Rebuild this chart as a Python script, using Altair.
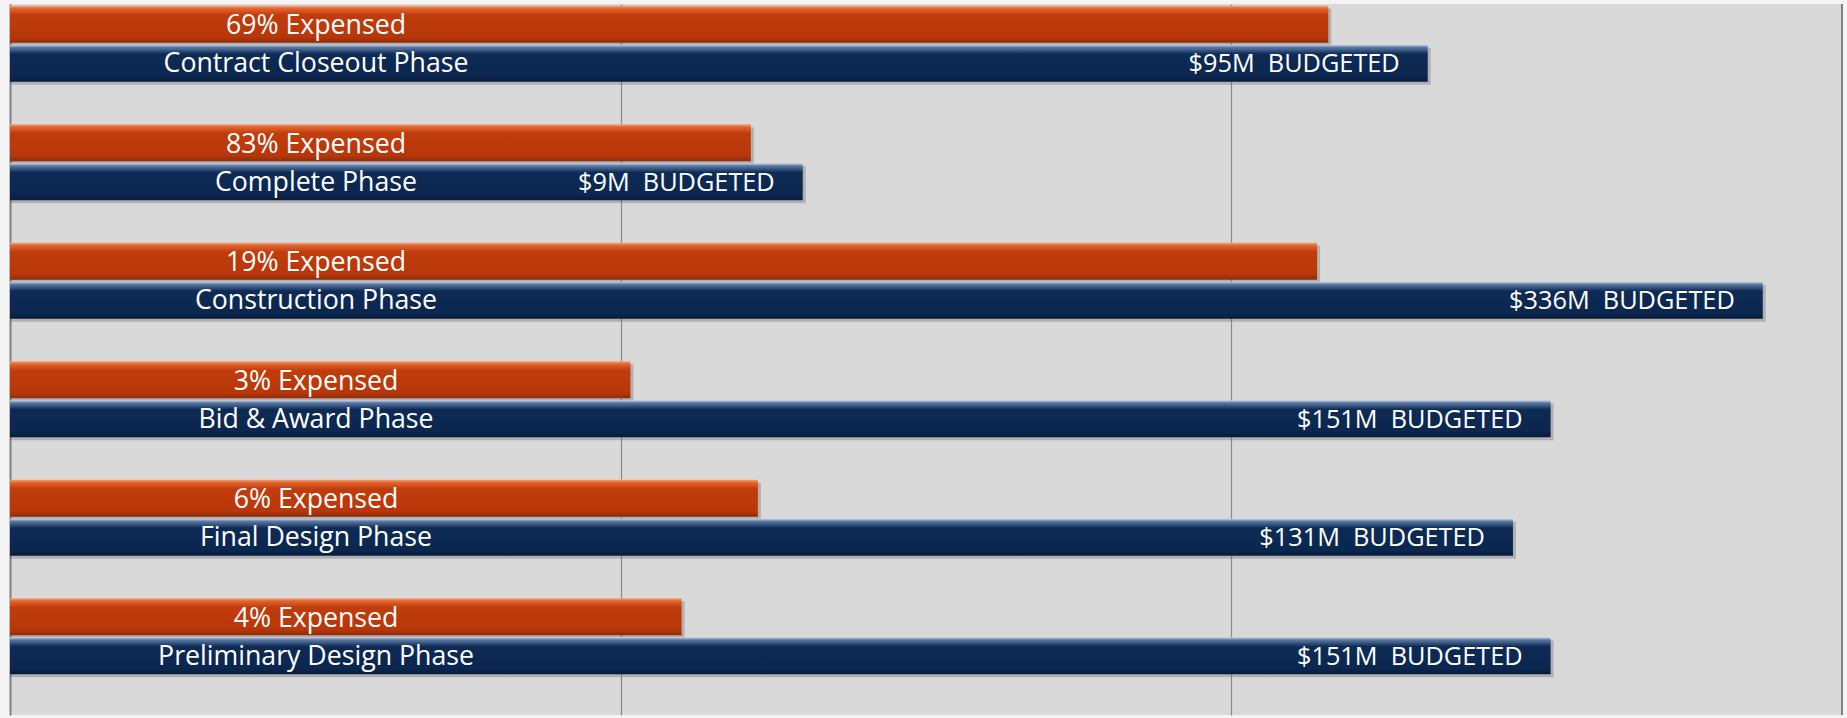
import altair as alt
import pandas as pd

phases = ["Contract Closeout Phase", "Complete Phase", "Construction Phase",
          "Bid & Award Phase", "Final Design Phase", "Preliminary Design Phase"]
budget = [95, 9, 336, 151, 131, 151]            # $M budgeted
pct_expensed = [69, 83, 19, 3, 6, 4]            # % expensed (label)
expensed = [65.3, 7.4, 62.6, 4.7, 7.6, 5.7]     # $M expensed (bar length)
grid_values = [4.53, 45.3]
x_domain = [0.453, 453]

df = pd.DataFrame({
    "phase": phases,
    "budget": budget,
    "expensed": expensed,
    "exp_label": [f"{p}% Expensed" for p in pct_expensed],
    "bud_label": [f"${b}M\u00a0 BUDGETED" for b in budget],
})

W, H = 1832, 711
FONT = "Open Sans"
BAR_H = 37

xscale = alt.Scale(type="log", domain=x_domain, nice=False, zero=False)
yenc = alt.Y("phase:N", sort=None, scale=alt.Scale(paddingInner=0, paddingOuter=0),
             axis=alt.Axis(labels=False, ticks=False, title=None, domain=True,
                           domainColor="#808080", domainWidth=2, grid=False))
xaxis = alt.Axis(values=grid_values, grid=True, gridColor="#8a8a8a", gridWidth=1.2,
                 labels=False, ticks=False, domain=False, title=None)

orange_grad = alt.Gradient(
    gradient="linear", x1=0, x2=0, y1=0, y2=1,
    stops=[alt.GradientStop(offset=0, color="#f4a27a"),
           alt.GradientStop(offset=0.08, color="#e0642c"),
           alt.GradientStop(offset=0.25, color="#c03c0c"),
           alt.GradientStop(offset=0.85, color="#b8370a"),
           alt.GradientStop(offset=1, color="#8e2b08")])
navy_grad = alt.Gradient(
    gradient="linear", x1=0, x2=0, y1=0, y2=1,
    stops=[alt.GradientStop(offset=0, color="#c9d4e4"),
           alt.GradientStop(offset=0.07, color="#5b7aa3"),
           alt.GradientStop(offset=0.25, color="#0e2b55"),
           alt.GradientStop(offset=0.85, color="#0b2750"),
           alt.GradientStop(offset=1, color="#071b3a")])

base = alt.Chart(df)
x0 = alt.datum(x_domain[0])

shadow_navy = base.mark_bar(color="#555555", opacity=0.3, height=BAR_H, yOffset=3, xOffset=3).encode(
    x=alt.X("budget:Q", scale=xscale, axis=xaxis), x2=x0, y=yenc)
shadow_orange = base.mark_bar(color="#555555", opacity=0.3, height=BAR_H, yOffset=-36, xOffset=3).encode(
    x=alt.X("expensed:Q", scale=xscale), x2=x0, y=yenc)

navy = base.mark_bar(color=navy_grad, height=BAR_H, yOffset=0).encode(
    x=alt.X("budget:Q", scale=xscale), x2=x0, y=yenc)
orange = base.mark_bar(color=orange_grad, height=BAR_H, yOffset=-39).encode(
    x=alt.X("expensed:Q", scale=xscale), x2=x0, y=yenc)

txt_kw = dict(font=FONT, color="white", baseline="middle")
exp_text = base.mark_text(align="center", dy=-37, fontSize=26.7, **txt_kw).encode(
    x=alt.value(306), y=yenc, text="exp_label:N")
phase_text = base.mark_text(align="center", dy=1, fontSize=26.7, **txt_kw).encode(
    x=alt.value(306), y=yenc, text="phase:N")
bud_text = base.mark_text(align="right", dx=-28, dy=1, fontSize=25.3, **txt_kw).encode(
    x=alt.X("budget:Q", scale=xscale), y=yenc, text="bud_label:N")

right_border = alt.Chart(pd.DataFrame({"edge": [x_domain[1]]})).mark_rule(
    color="#808080", strokeWidth=2).encode(
    x=alt.X("edge:Q", scale=xscale), y=alt.value(0), y2=alt.value(H))

chart = alt.layer(shadow_navy, shadow_orange, navy, orange, exp_text, phase_text, bud_text,
                  right_border).properties(
    width=W, height=H,
    padding={"left": 10, "top": 4, "right": 5, "bottom": 3},
    autosize=alt.AutoSizeParams(type="none"),
    background="#f4f4f4",
).configure_view(fill="#d9d9d9", stroke=None)

chart.save("out.html", embed_options={"renderer": "svg", "actions": False})
